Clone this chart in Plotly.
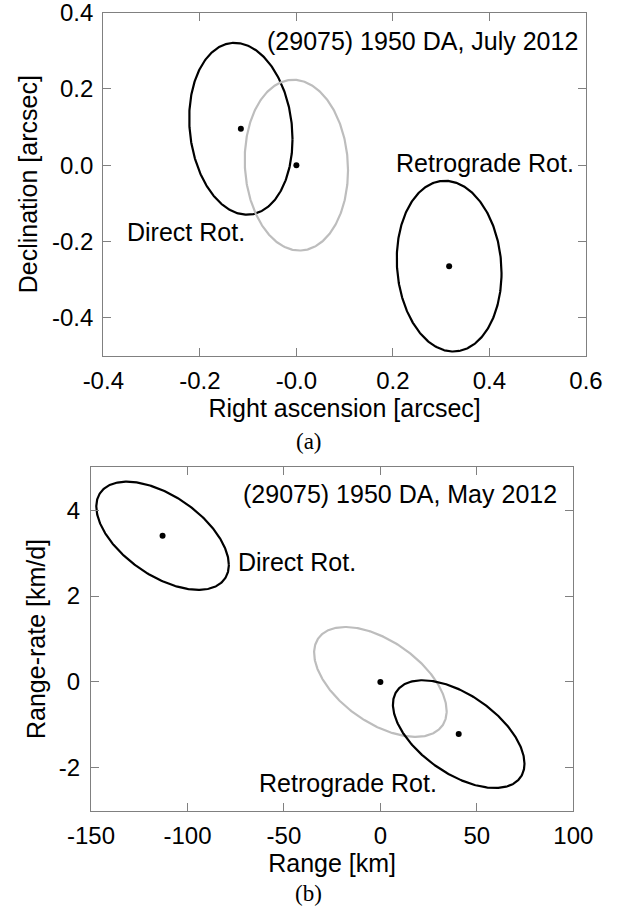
import numpy as np
import plotly.graph_objects as go

# ---------------- data ----------------
# Panel (a): plane-of-sky uncertainty ellipses, July 2012
a_names = ["Direct Rot.", "Nominal", "Retrograde Rot."]
a_cx = [-0.115, 0.0, 0.3165]          # right ascension centre [arcsec]
a_cy = [0.0955, 0.0, -0.265]          # declination centre [arcsec]
a_sx = [0.107, 0.107, 0.1085]         # half extent in RA
a_sy = [0.2255, 0.224, 0.224]         # half extent in Dec
a_rho = [-0.12, -0.06, -0.08]         # correlation
a_xticks = [-0.4, -0.2, 0.0, 0.2, 0.4, 0.6]
a_xtext = ["-0.4", "-0.2", "-0.0", "0.2", "0.4", "0.6"]
a_yticks = [-0.4, -0.2, 0.0, 0.2, 0.4]
a_ytext = ["-0.4", "-0.2", "0.0", "0.2", "0.4"]

# Panel (b): radar uncertainty ellipses, May 2012
b_names = ["Direct Rot.", "Nominal", "Retrograde Rot."]
b_cx = [-112.9, 0.0, 40.6]            # range centre [km]
b_cy = [3.405, 0.0, -1.216]           # range-rate centre [km/d]
b_sx = [34.35, 34.35, 34.1]
b_sy = [1.26, 1.28, 1.255]
b_rho = [-0.54, -0.53, -0.55]
b_xticks = [-150, -100, -50, 0, 50, 100]
b_xtext = ["-150", "-100", "-50", "0", "50", "100"]
b_yticks = [-2, 0, 2, 4]
b_ytext = ["-2", "0", "2", "4"]

colors = ["#000000", "#bdbdbd", "#000000"]

FONT = "Liberation Sans, Arial, sans-serif"
FS = 25

t = np.linspace(0, 2 * np.pi, 361)


def ellipse(cx, cy, sx, sy, rho):
    x = cx + sx * np.cos(t)
    y = cy + sy * (rho * np.cos(t) + np.sqrt(1 - rho ** 2) * np.sin(t))
    return x, y


fig = go.Figure()

for i in range(3):
    x, y = ellipse(a_cx[i], a_cy[i], a_sx[i], a_sy[i], a_rho[i])
    fig.add_trace(go.Scatter(x=x, y=y, mode="lines", xaxis="x", yaxis="y",
                             line=dict(color=colors[i], width=2.2),
                             name=a_names[i], showlegend=False, hoverinfo="skip"))
fig.add_trace(go.Scatter(x=a_cx, y=a_cy, mode="markers", xaxis="x", yaxis="y",
                         marker=dict(color="black", size=6), showlegend=False))

for i in range(3):
    x, y = ellipse(b_cx[i], b_cy[i], b_sx[i], b_sy[i], b_rho[i])
    fig.add_trace(go.Scatter(x=x, y=y, mode="lines", xaxis="x2", yaxis="y2",
                             line=dict(color=colors[i], width=2.2),
                             name=b_names[i], showlegend=False, hoverinfo="skip"))
fig.add_trace(go.Scatter(x=b_cx, y=b_cy, mode="markers", xaxis="x2", yaxis="y2",
                         marker=dict(color="black", size=6), showlegend=False))

axis_common = dict(showgrid=False, zeroline=False, showline=True, mirror="ticks",
                   linecolor="#808080", linewidth=1.3, ticks="inside", ticklen=8,
                   tickcolor="#808080", tickwidth=1.3, automargin=False,
                   ticklabeloverflow="allow",
                   tickfont=dict(family=FONT, size=FS - 1, color="black"))
title_font = dict(family=FONT, size=FS, color="black")

W, H = 618, 906
fig.update_layout(
    template="none",
    width=W, height=H, margin=dict(l=0, r=0, t=0, b=0, pad=0),
    paper_bgcolor="white", plot_bgcolor="white",
    xaxis=dict(axis_common, domain=[103.3 / W, 586 / W], range=[-0.4, 0.6],
               tickvals=a_xticks, ticktext=a_xtext, anchor="y",
               ticklabelstandoff=3,
               title=dict(text="Right ascension [arcsec]", standoff=0, font=title_font)),
    yaxis=dict(axis_common, domain=[1 - 355.7 / H, 1 - 12.7 / H], range=[-0.5, 0.4001],
               tickvals=a_yticks, ticktext=a_ytext, anchor="x",
               ticklabelstandoff=4,
               title=dict(text="Declination [arcsec]", standoff=7, font=title_font)),
    xaxis2=dict(axis_common, domain=[91 / W, 573.3 / W], range=[-150, 100],
                tickvals=b_xticks, ticktext=b_xtext, anchor="y2",
                ticklabelstandoff=3,
                title=dict(text="Range [km]", standoff=0, font=title_font)),
    yaxis2=dict(axis_common, domain=[1 - 810.7 / H, 1 - 467.3 / H], range=[-3, 5],
                tickvals=b_yticks, ticktext=b_ytext, anchor="x2",
                ticklabelstandoff=5,
                title=dict(text="Range-rate [km/d]", standoff=5, font=title_font)),
)

txt = dict(family=FONT, size=FS, color="black")
serif = dict(family="Liberation Serif, Times New Roman, serif", size=23, color="black")
ann = [
    dict(x=0.588, y=0.326, xref="x", yref="y", text="(29075) 1950 DA, July 2012",
         xanchor="right", yanchor="middle", showarrow=False, font=txt),
    dict(x=-0.356, y=-0.1755, xref="x", yref="y", text="Direct Rot.",
         xanchor="left", yanchor="middle", showarrow=False, font=txt),
    dict(x=0.202, y=0.005, xref="x", yref="y", text="Retrograde Rot.",
         xanchor="left", yanchor="middle", showarrow=False, font=txt),
    dict(x=92.8, y=4.38, xref="x2", yref="y2", text="(29075) 1950 DA, May 2012",
         xanchor="right", yanchor="middle", showarrow=False, font=txt),
    dict(x=-74.8, y=2.79, xref="x2", yref="y2", text="Direct Rot.",
         xanchor="left", yanchor="middle", showarrow=False, font=txt),
    dict(x=-64.1, y=-2.35, xref="x2", yref="y2", text="Retrograde Rot.",
         xanchor="left", yanchor="middle", showarrow=False, font=txt),
    dict(x=308.5 / W, y=1 - 441.7 / H, xref="paper", yref="paper", text="(a)",
         xanchor="center", yanchor="middle", showarrow=False, font=serif),
    dict(x=308.5 / W, y=1 - 893 / H, xref="paper", yref="paper", text="(b)",
         xanchor="center", yanchor="middle", showarrow=False, font=serif),
]
fig.update_layout(annotations=ann)

fig.write_html("out.html")
